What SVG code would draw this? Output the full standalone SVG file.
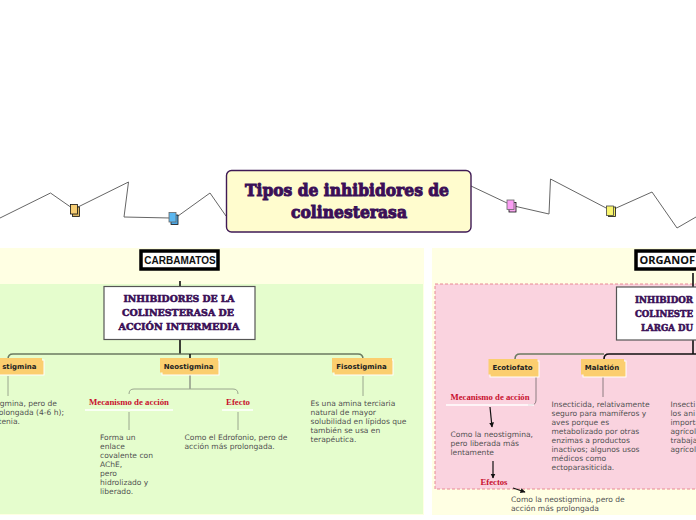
<svg xmlns="http://www.w3.org/2000/svg" width="696" height="520" viewBox="0 0 696 520">
<style>
.slab{font-family:"DejaVu Serif","Liberation Serif",serif;font-weight:700;fill:#3a0f57;stroke:#3a0f57;text-anchor:middle}
.t1{font-size:17px;stroke-width:1px}
.t2{font-size:10px;stroke-width:.6px}
.hd{font-family:"Liberation Sans",Arial,sans-serif;font-weight:700;font-size:10px;fill:#111;text-anchor:middle}
.hdbox{fill:#fff;stroke:#000;stroke-width:3.5}
.sub{fill:#fff;stroke:#555;stroke-width:1.2}
.tag{font-family:"DejaVu Sans",sans-serif;font-weight:700;font-size:7px;fill:#222;text-anchor:middle}
.tagb{fill:#fbce6f}
.tags{fill:#fbce6f;stroke:#fff;stroke-width:1}
.b{font-family:"DejaVu Sans",sans-serif;font-size:7.55px;fill:#505050}
.e{text-anchor:end}
.r{font-family:"Liberation Serif",serif;font-weight:700;font-size:9px;fill:#c8102e;text-anchor:middle}
.c{fill:none;stroke:#666;stroke-width:1}
.g{fill:none;stroke:#9aa68e;stroke-width:1}
.main{fill:none;stroke:#6b7a60;stroke-width:1.5}
.k{fill:none;stroke:#111;stroke-width:1.6}
.a{fill:none;stroke:#111;stroke-width:1.2;marker-end:url(#arr)}
.ul{stroke:#fff;stroke-width:1.5}
.ic{stroke:#111;stroke-width:.8}
</style>
<defs><marker id="arr" markerWidth="6" markerHeight="6" refX="4.5" refY="2.5" orient="auto" markerUnits="userSpaceOnUse"><path d="M0 0L5 2.5L0 5Z" fill="#111"/></marker></defs>
<rect width="696" height="520" fill="#fff"/>
<g id="panels">
<rect x="0" y="248" width="424" height="267" fill="#ffffe3"/>
<rect x="0" y="284" width="423" height="230" fill="#e5fdcd"/>
<rect x="432" y="248" width="264" height="267" fill="#ffffe3"/>
<rect x="435" y="284" width="270" height="205" fill="#fad3df" stroke="#e88a94" stroke-width="1" stroke-dasharray="3 2"/>
</g>
<g id="connectors">
<path class="c" d="M0 218L50.500 193L72 208M78 207L128.500 182L124 217L170 218M178 216L210 193L226 216"/>
<path class="c" d="M471 186L507 203M514 206L549 214L550.500 179L608 209M614 209L652 192L677 228L696 217"/>
<path class="k" d="M180 281V287M180 340V354M693 273V287M693 340V354"/>
<path class="main" d="M8 359Q8 354 13 354H358Q363 354 363 359"/>
<path class="main" d="M515 359Q515 354 520 354H604" stroke="#6e5a60"/>
<path class="k" d="M604 359Q604 354 609 354H696" stroke-width="1.3"/>
<path class="k" d="M190 354V358" stroke-width="1"/>
<path class="c" d="M190 374V389"/>
<path class="g" d="M129 394Q129 389 134 389H233Q238 389 238 394"/>
<path class="g" d="M8 376V396M129 412V430M238 412V430M363 376V396"/>
<path class="g" style="stroke:#8c7c80" d="M536 376V400Q536 405 531 405H528M603 376V397"/>
<path class="a" d="M490 407L492 427"/>
<path class="a" d="M493 461V478"/>
<path class="a" d="M513 488L525 492"/>
</g>
<g id="i1"><rect x="72.500" y="207" width="7" height="9.500" fill="#d9b45f" class="ic"/><rect x="70.500" y="204.500" width="7" height="9.500" fill="#f6cd73" class="ic"/></g>
<g id="i2"><rect x="171" y="215" width="7" height="9.500" fill="#4aa8e8" class="ic"/><rect x="169" y="212.500" width="7" height="9.500" fill="#5ab7f0" stroke="#666" stroke-width=".8"/></g>
<g id="i3"><rect x="509" y="202.500" width="7" height="9.500" fill="#f9a8f0" class="ic"/><rect x="507" y="200" width="7" height="9.500" fill="#fb9df4" stroke="#666" stroke-width=".8"/></g>
<g id="i4"><rect x="608.500" y="207" width="7" height="9.500" fill="#f3ef60" class="ic"/><rect x="606.500" y="206" width="7" height="9.500" fill="#f9f56e" stroke="#444" stroke-width=".8"/></g>
<g id="title"><rect x="226.500" y="170.500" width="244.500" height="61.500" rx="5" fill="#fffcce" stroke="#3f1a55" stroke-width="1.4"/>
<text class="slab t1" x="347" y="196" textLength="204" lengthAdjust="spacingAndGlyphs">Tipos de inhibidores de</text>
<text class="slab t1" x="349" y="218" textLength="116" lengthAdjust="spacingAndGlyphs">colinesterasa</text></g>
<g id="carbamatos"><rect class="hdbox" x="141" y="251" width="77" height="18"/><text class="hd" x="180" y="263.500">CARBAMATOS</text></g>
<g id="organof"><rect class="hdbox" x="636" y="251" width="80" height="18"/><text class="hd" x="639.500" y="264" style="text-anchor:start;font-family:'Noto Sans',sans-serif;font-size:10.500px" textLength="55.500" lengthAdjust="spacingAndGlyphs">ORGANOF</text></g>
<g id="intermedia"><rect class="sub" x="104" y="286.500" width="151" height="53"/>
<text class="slab t2" x="179" y="302" textLength="111" lengthAdjust="spacingAndGlyphs">INHIBIDORES DE LA</text>
<text class="slab t2" x="178" y="316" textLength="112" lengthAdjust="spacingAndGlyphs">COLINESTERASA DE</text>
<text class="slab t2" x="179" y="330" textLength="121" lengthAdjust="spacingAndGlyphs">ACCIÓN INTERMEDIA</text></g>
<g id="larga"><rect class="sub" x="616.500" y="287" width="110" height="53"/>
<text class="slab t2" x="635" y="303" style="text-anchor:start" textLength="58" lengthAdjust="spacingAndGlyphs">INHIBIDOR</text>
<text class="slab t2" x="635" y="317" style="text-anchor:start" textLength="58" lengthAdjust="spacingAndGlyphs">COLINESTE</text>
<text class="slab t2" x="641" y="331" style="text-anchor:start" textLength="52" lengthAdjust="spacingAndGlyphs">LARGA DU</text></g>
<g id="piridostigmina"><rect class="tags" x="-12" y="360" width="56" height="15"/><rect class="tagb" x="-14" y="358" width="56" height="14.500"/><text class="tag" style="text-anchor:end" x="36.500" y="368.500">stigmina</text></g>
<g id="neostigmina"><rect class="tags" x="162" y="360" width="57" height="15"/><rect class="tagb" x="160" y="358" width="58" height="14.500"/><text class="tag" x="188.500" y="368.500">Neostigmina</text></g>
<g id="fisostigmina"><rect class="tags" x="334" y="360" width="59" height="15"/><rect class="tagb" x="332" y="358" width="60" height="14.500"/><text class="tag" x="361.500" y="368.500">Fisostigmina</text></g>
<g id="ecotiofato"><rect class="tags" x="490" y="361" width="49" height="16"/><rect class="tagb" x="488.500" y="359" width="49" height="15.500"/><text class="tag" x="512.500" y="369.500">Ecotiofato</text></g>
<g id="malation"><rect class="tags" x="583" y="361" width="43" height="16"/><rect class="tagb" x="581" y="359" width="43" height="15.500"/><text class="tag" x="602" y="369.500">Malatión</text></g>
<g id="t-piri"><text class="b e" x="57" y="406">gmina, pero de</text><text class="b e" x="64" y="415">olongada (4-6 h);</text><text class="b e" x="20" y="424">tenia.</text></g>
<g id="m1"><text class="r" x="129" y="405" textLength="80" lengthAdjust="spacingAndGlyphs">Mecanismo de acción</text><line class="ul" x1="85" y1="410" x2="173" y2="410"/></g>
<g id="e1"><text class="r" x="238" y="405" textLength="24" lengthAdjust="spacingAndGlyphs">Efecto</text><line class="ul" x1="222" y1="410" x2="253" y2="410"/></g>
<g id="t-forma"><text class="b" x="100" y="440">Forma un</text><text class="b" x="100" y="449">enlace</text><text class="b" x="100" y="458">covalente con</text><text class="b" x="100" y="467">AChE,</text><text class="b" x="100" y="476">pero</text><text class="b" x="100" y="485">hidrolizado y</text><text class="b" x="100" y="494">liberado.</text></g>
<g id="t-edro"><text class="b" x="184.500" y="440">Como el Edrofonio, pero de</text><text class="b" x="184.500" y="449">acción más prolongada.</text></g>
<g id="t-fiso"><text class="b" x="310.500" y="406">Es una amina terciaria</text><text class="b" x="310.500" y="415">natural de mayor</text><text class="b" x="310.500" y="424">solubilidad en lípidos que</text><text class="b" x="310.500" y="433">también se usa en</text><text class="b" x="310.500" y="442">terapéutica.</text></g>
<g id="m2"><text class="r" x="490" y="400" textLength="79" lengthAdjust="spacingAndGlyphs">Mecanismo de acción</text><line class="ul" x1="446" y1="405" x2="534" y2="405"/></g>
<g id="t-eco"><text class="b" x="450.500" y="437">Como la neostigmina,</text><text class="b" x="450.500" y="446">pero liberada más</text><text class="b" x="450.500" y="455">lentamente</text></g>
<g id="e2"><text class="r" x="494" y="485" textLength="27" lengthAdjust="spacingAndGlyphs">Efectos</text></g>
<g id="t-eco2"><text class="b" x="511" y="502">Como la neostigmina, pero de</text><text class="b" x="511" y="511">acción más prolongada</text></g>
<g id="t-mala"><text class="b" x="551.500" y="407">Insecticida, relativamente</text><text class="b" x="551.500" y="416">seguro para mamíferos y</text><text class="b" x="551.500" y="425">aves porque es</text><text class="b" x="551.500" y="434">metabolizado por otras</text><text class="b" x="551.500" y="443">enzimas a productos</text><text class="b" x="551.500" y="452">inactivos; algunos usos</text><text class="b" x="551.500" y="461">médicos como</text><text class="b" x="551.500" y="470">ectoparasiticida.</text></g>
<g id="t-ins"><text class="b" x="670.500" y="407">Insecti</text><text class="b" x="670.500" y="416">los ani</text><text class="b" x="670.500" y="425">importa</text><text class="b" x="670.500" y="434">agrícol</text><text class="b" x="670.500" y="443">trabaja</text><text class="b" x="670.500" y="452">agrícol</text></g>
</svg>
